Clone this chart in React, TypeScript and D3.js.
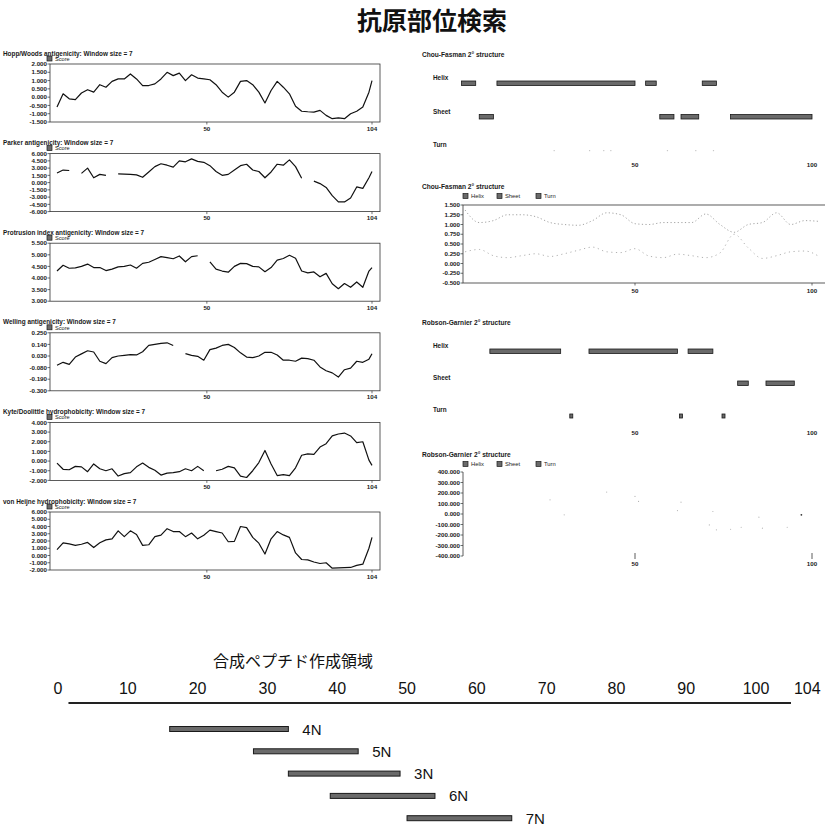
import React from "react";
import * as d3 from "d3";

// ---------- data ----------
const chartTitle = "抗原部位検索";

// residues sampled along the 104-residue sequence
const residues = [...d3.range(1, 104, 2), 104];

const hoppWoods = [-0.6, 0.2, -0.1, -0.15, 0.25, 0.45, 0.3, 0.75, 0.6, 0.95, 1.1, 1.1, 1.4, 1.1, 0.7, 0.7, 0.8, 1.1, 1.5, 1.3, 1.45, 1.0, 1.35, 1.15, 1.1, 1.05, 0.75, 0.3, 0.0, 0.3, 0.95, 1.0, 0.75, 0.3, -0.35, 0.4, 0.95, 0.6, 0.2, -0.55, -0.85, -0.88, -0.9, -0.8, -1.1, -1.3, -1.25, -1.3, -1.0, -0.85, -0.6, 0.3, 1.0];
const parker = [2.0, 2.6, 2.5, null, 1.9, 3.0, 1.0, 1.7, 1.5, null, 1.8, 1.75, 1.7, 1.6, 1.1, 2.2, 3.3, 3.9, 3.6, 3.2, 4.5, 4.3, 4.9, 4.4, 4.2, 3.5, 2.3, 1.5, 1.7, 2.6, 3.5, 3.8, 2.6, 2.3, 1.0, 2.2, 3.8, 3.6, 4.7, 3.3, 0.9, null, 0.3, -0.2, -1.0, -2.7, -4.0, -4.0, -3.2, -0.9, -1.2, 1.0, 2.3];
const protrusion = [4.3, 4.55, 4.42, 4.44, 4.5, 4.6, 4.45, 4.45, 4.32, 4.38, 4.48, 4.5, 4.56, 4.42, 4.63, 4.68, 4.8, 4.92, 4.88, 4.83, 4.95, 4.7, 4.92, 4.96, null, 4.7, 4.38, 4.3, 4.25, 4.5, 4.63, 4.62, 4.5, 4.48, 4.27, 4.45, 4.77, 4.84, 4.98, 4.85, 4.3, 4.22, 4.26, 4.05, 4.2, 3.75, 3.54, 3.76, 3.6, 3.83, 3.6, 4.3, 4.45];
const welling = [-0.058, -0.03, -0.05, 0.02, 0.05, 0.08, 0.068, -0.02, -0.042, 0.015, 0.03, 0.036, 0.043, 0.04, 0.07, 0.13, 0.14, 0.15, 0.155, 0.13, null, 0.052, 0.036, 0.027, -0.01, 0.09, 0.105, 0.13, 0.14, 0.11, 0.06, 0.02, 0.014, 0.03, 0.065, 0.065, 0.04, -0.01, -0.01, -0.02, 0.01, 0.005, -0.01, -0.074, -0.11, -0.13, -0.17, -0.1, -0.085, -0.02, -0.03, 0.0, 0.052];
const kyteDoolittle = [-0.21, -0.85, -0.9, -0.55, -0.6, -1.1, -0.3, -0.8, -1.0, -0.8, -1.55, -1.3, -1.2, -0.6, -0.2, -0.65, -0.95, -1.45, -1.25, -1.2, -1.1, -0.8, -1.0, -0.55, -1.0, null, -1.0, -0.85, -0.55, -0.7, -1.55, -1.7, -1.0, -0.15, 1.1, -0.3, -1.5, -1.4, -1.5, -0.7, 0.6, 0.75, 0.7, 1.45, 1.8, 2.6, 2.8, 2.9, 2.6, 1.9, 2.0, 0.1, -0.45];
const vonHeijne = [0.8, 1.75, 1.6, 1.4, 1.55, 1.8, 1.1, 1.75, 2.15, 2.3, 3.4, 2.6, 3.4, 2.9, 1.4, 1.48, 2.6, 2.8, 3.7, 3.3, 3.3, 2.6, 3.1, 2.3, 2.8, 3.5, 3.3, 3.1, 1.9, 1.95, 4.0, 3.85, 2.5, 1.7, 0.2, 2.3, 3.3, 2.84, 2.5, 0.35, -0.55, -0.6, -0.9, -1.1, -1.0, -1.75, -1.7, -1.68, -1.65, -1.37, -1.2, 1.0, 2.5];

const leftTitles = [
  "Hopp/Woods antigenicity: Window size = 7",
  "Parker antigenicity: Window size = 7",
  "Protrusion index antigenicity: Window size = 7",
  "Welling antigenicity: Window size = 7",
  "Kyte/Doolittle hydrophobicity: Window size = 7",
  "von Heijne hydrophobicity: Window size = 7",
];
const hoppTicks = [2, 1.5, 1, 0.5, 0, -0.5, -1, -1.5];
const parkerTicks = [6, 4.5, 3, 1.5, 0, -1.5, -3, -4.5, -6];
const protrusionTicks = [5.5, 5, 4.5, 4, 3.5, 3];
const wellingTicks = [0.25, 0.14, 0.03, -0.08, -0.19, -0.3];
const kyteTicks = [4, 3, 2, 1, 0, -1, -2];
const heijneTicks = [6, 5, 4, 3, 2, 1, 0, -1, -2];
const leftXTicks = [50, 104];

// Chou-Fasman secondary structure (residue ranges)
const cfHelix = [[1, 5], [11, 50], [53, 56], [69, 73]];
const cfSheet = [[6, 10], [57, 61], [63, 68], [77, 100]];
const cfTurn = [27, 37, 41, 43, 59, 67, 72];

// Chou-Fasman profile
const cfPlotRes = d3.range(2, 103, 4);
const cfHelixScore = [1.37, 1.05, 1.1, 1.25, 1.25, 1.2, 1.05, 1.0, 0.98, 1.1, 1.3, 1.25, 1.02, 1.0, 1.05, 1.05, 1.05, 1.27, 1.0, 0.8, 1.0, 1.05, 1.3, 1.0, 1.1, 1.08];
const cfSheetScore = [0.3, 0.36, 0.2, 0.15, 0.2, 0.25, 0.18, 0.25, 0.34, 0.42, 0.3, 0.28, 0.38, 0.19, 0.15, 0.24, 0.2, 0.15, 0.27, 0.75, 0.4, 0.13, 0.2, 0.3, 0.32, 0.18];
const cfTicks = [1.5, 1.25, 1, 0.75, 0.5, 0.25, 0, -0.25, -0.5];

// Robson-Garnier secondary structure
const rgHelix = [[9, 29], [37, 62], [65, 72]];
const rgSheet = [[79, 82], [87, 95]];
const rgTurn = [32, 63, 75];

// Robson-Garnier profile (faint points)
const rgDotRes = [26, 30, 42, 50, 51, 62, 63, 72, 71, 73, 77, 80, 85, 86, 93, 97];
const rgDotVal = [135, -8, 209, 167, 120, 33, 113, 24, -104, -151, -145, -126, -30, -135, -126, -8];
const rgTicks = [400, 300, 200, 100, 0, -100, -200, -300, -400];

const rightXTicks = [50, 100];
const structNames = ["Helix", "Sheet", "Turn"];

// synthetic peptide regions
const peptideTitle = "合成ペプチド作成領域";
const peptideNames = ["4N", "5N", "3N", "6N", "7N"];
const peptideStart = [16, 28, 33, 39, 50];
const peptideEnd = [33, 43, 49, 54, 65];
const peptideTicks = d3.range(0, 101, 10);

// ---------- drawing ----------
const SANS = "'Liberation Sans', Arial, sans-serif";
const NARROW = "'Liberation Sans Narrow', 'Liberation Sans', Arial, sans-serif";
const INK = "#1a1a1a";
const BAR_FILL = "#6a6a6a";
const fmt = (v: number) => v.toFixed(3);

const lx = d3.scaleLinear().domain([1, 104]).range([57, 372]);
const rx = d3.scaleLinear().domain([50, 100]).range([635, 812]);
const px = d3.scaleLinear().domain([0, 104]).range([58, 784]);

const small = { fontFamily: SANS, fontSize: 6.2, fontWeight: 700, fill: INK } as const;

function LeftPanel({ top, name, values, ticks }: { top: number; name: string; values: (number | null)[]; ticks: number[] }) {
  const boxH = 58;
  const y = d3.scaleLinear().domain(d3.extent(ticks) as [number, number]).range([top + boxH, top]);
  const line = d3
    .line<number | null>()
    .defined(v => v !== null)
    .x((_, i) => lx(residues[i]))
    .y(v => y(v as number));
  return (
    <g>
      <text x={3} y={top - 8.5} {...small} fontSize={6.4}>{name}</text>
      <rect x={47} y={top - 8} width={5} height={5} fill={BAR_FILL} stroke={INK} strokeWidth={0.7} />
      <text x={55} y={top - 3.3} {...small} fontSize={5.6} fontWeight={400}>Score</text>
      <rect x={50} y={top} width={330} height={boxH} fill="none" stroke="#333" strokeWidth={0.8} />
      {ticks.map(t => (
        <g key={t}>
          <line x1={47.5} x2={50} y1={y(t)} y2={y(t)} stroke="#333" strokeWidth={0.7} />
          <text x={47} y={y(t) + 2.2} textAnchor="end" {...small}>{fmt(t)}</text>
        </g>
      ))}
      <path d={line(values) || ""} fill="none" stroke="#111" strokeWidth={1.2} strokeLinejoin="round" />
      {leftXTicks.map(t => (
        <g key={t}>
          <line x1={lx(t)} x2={lx(t)} y1={top + boxH} y2={top + boxH + 2.5} stroke="#333" strokeWidth={0.7} />
          <text x={lx(t)} y={top + boxH + 8.5} textAnchor="middle" {...small}>{t}</text>
        </g>
      ))}
    </g>
  );
}

function StructPanel({ top, name, helix, sheet, turnDots, rowGap, faintTurn }: any) {
  const rows = [helix, sheet];
  return (
    <g>
      <text x={422} y={top} {...small} fontSize={6.6}>{name}</text>
      {structNames.map((s, i) => (
        <text key={s} x={433} y={top + 23 + i * rowGap} {...small} fontSize={6.4}>{s}</text>
      ))}
      {rows.map((segs: number[][], i: number) =>
        segs.map(([a, b]) => (
          <rect key={i + "-" + a} x={rx(a)} y={top + 24 + i * rowGap} width={rx(b) - rx(a)} height={4.5}
            fill={BAR_FILL} stroke={INK} strokeWidth={0.8} />
        ))
      )}
      {turnDots.map((r: number) =>
        faintTurn ? (
          <rect key={r} x={rx(r)} y={top + 26 + 2 * rowGap} width={1.2} height={1.2} fill="#c8c8c8" />
        ) : (
          <rect key={r} x={rx(r) - 1.5} y={top + 25 + 2 * rowGap} width={3} height={4} fill={BAR_FILL} stroke={INK} strokeWidth={0.8} />
        )
      )}
      {rightXTicks.map(t => (
        <text key={t} x={rx(t)} y={top + 110} textAnchor="middle" {...small}>{t}</text>
      ))}
    </g>
  );
}

function Legend({ y }: { y: number }) {
  const offs = [0, 34, 73];
  return (
    <g>
      {structNames.map((s, i) => (
        <g key={s}>
          <rect x={463 + offs[i]} y={y - 2.5} width={5} height={5} fill={BAR_FILL} stroke={INK} strokeWidth={0.7} />
          <text x={471 + offs[i]} y={y + 2} {...small} fontSize={5.8} fontWeight={400}>{s}</text>
        </g>
      ))}
    </g>
  );
}

export default function App() {
  const leftData = [
    { values: hoppWoods, ticks: hoppTicks },
    { values: parker, ticks: parkerTicks },
    { values: protrusion, ticks: protrusionTicks },
    { values: welling, ticks: wellingTicks },
    { values: kyteDoolittle, ticks: kyteTicks },
    { values: vonHeijne, ticks: heijneTicks },
  ];

  // Chou-Fasman profile
  const cfTop = 205, cfBot = 283;
  const cy = d3.scaleLinear().domain([-0.5, 1.5]).range([cfBot, cfTop]);
  const cfLine = d3.line<number>().x((_, i) => rx(cfPlotRes[i])).y(v => cy(v)).curve(d3.curveMonotoneX);

  // Robson-Garnier profile
  const rgTop = 472, rgBot = 556;
  const gy = d3.scaleLinear().domain([-400, 400]).range([rgBot, rgTop]);

  const peptideRow0 = 729, peptideGap = 22.3;

  return (
    <svg width={825} height={829} style={{ position: "absolute", left: 0, top: 0, background: "#fff" }}>
      <rect width={825} height={829} fill="#fff" />
      <text x={432} y={30} textAnchor="middle" fontFamily="'Noto Sans CJK JP', sans-serif" fontWeight={700} fontSize={25} fill="#111">
        {chartTitle}
      </text>

      {leftData.map((d, i) => (
        <LeftPanel key={i} top={64 + i * 89.6} name={leftTitles[i]} values={d.values} ticks={d.ticks} />
      ))}

      <StructPanel top={57} name="Chou-Fasman 2° structure" helix={cfHelix} sheet={cfSheet} turnDots={cfTurn} rowGap={33.5} faintTurn />

      {/* Chou-Fasman profile */}
      <text x={422} y={189} {...small} fontSize={6.6}>Chou-Fasman 2° structure</text>
      <Legend y={196} />
      <rect x={463} y={cfTop} width={380} height={cfBot - cfTop} fill="none" stroke="#333" strokeWidth={0.8} />
      {cfTicks.map(t => (
        <g key={t}>
          <line x1={460.5} x2={463} y1={cy(t)} y2={cy(t)} stroke="#333" strokeWidth={0.7} />
          <text x={460} y={cy(t) + 2.2} textAnchor="end" {...small}>{fmt(t)}</text>
        </g>
      ))}
      <path d={cfLine(cfHelixScore) || ""} fill="none" stroke="#9a9a9a" strokeWidth={0.9} strokeDasharray="1.2,2.4" />
      <path d={cfLine(cfSheetScore) || ""} fill="none" stroke="#a8a8a8" strokeWidth={0.9} strokeDasharray="1.2,3.5" />
      {rightXTicks.map(t => (
        <g key={t}>
          <line x1={rx(t)} x2={rx(t)} y1={cfBot} y2={cfBot + 2.5} stroke="#333" strokeWidth={0.7} />
          <text x={rx(t)} y={cfBot + 10} textAnchor="middle" {...small}>{t}</text>
        </g>
      ))}

      <StructPanel top={325} name="Robson-Garnier 2° structure" helix={rgHelix} sheet={rgSheet} turnDots={rgTurn} rowGap={32} />

      {/* Robson-Garnier profile */}
      <text x={422} y={457} {...small} fontSize={6.6}>Robson-Garnier 2° structure</text>
      <Legend y={464} />
      <line x1={463} x2={463} y1={rgTop} y2={rgBot} stroke="#333" strokeWidth={0.8} />
      {rgTicks.map(t => (
        <g key={t}>
          <line x1={460.5} x2={463} y1={gy(t)} y2={gy(t)} stroke="#333" strokeWidth={0.7} />
          <text x={460} y={gy(t) + 2.2} textAnchor="end" {...small}>{fmt(t)}</text>
        </g>
      ))}
      {rgDotRes.map((r, i) => (
        <circle key={i} cx={rx(r)} cy={gy(rgDotVal[i])} r={i === rgDotRes.length - 1 ? 0.9 : 0.6}
          fill={i === rgDotRes.length - 1 ? "#333" : "#b5b5b5"} />
      ))}
      {rightXTicks.map(t => (
        <g key={t}>
          <line x1={rx(t)} x2={rx(t)} y1={rgBot - 3} y2={rgBot + 3} stroke="#333" strokeWidth={0.8} />
          <text x={rx(t)} y={rgBot + 10} textAnchor="middle" {...small}>{t}</text>
        </g>
      ))}

      {/* synthetic peptide map */}
      <text x={213} y={667} fontFamily="'Noto Sans CJK JP', sans-serif" fontSize={16} fill="#111">{peptideTitle}</text>
      {peptideTicks.map(t => (
        <text key={t} x={px(t)} y={694} textAnchor="middle" fontFamily={NARROW} fontSize={16} fill="#111">{t}</text>
      ))}
      <line x1={px(1.5)} x2={px(105)} y1={703} y2={703} stroke="#222" strokeWidth={2} />
      <text x={px(105) + 3} y={694} fontFamily={NARROW} fontSize={16} fill="#111">104</text>
      {peptideNames.map((n, i) => (
        <g key={n}>
          <rect x={px(peptideStart[i])} y={peptideRow0 + i * peptideGap - 2.5} width={px(peptideEnd[i]) - px(peptideStart[i])} height={5}
            fill={BAR_FILL} stroke={INK} strokeWidth={1} />
          <text x={px(peptideEnd[i]) + 14} y={peptideRow0 + i * peptideGap + 5.5} fontFamily={NARROW} fontSize={15} fill="#111">{n}</text>
        </g>
      ))}
    </svg>
  );
}
